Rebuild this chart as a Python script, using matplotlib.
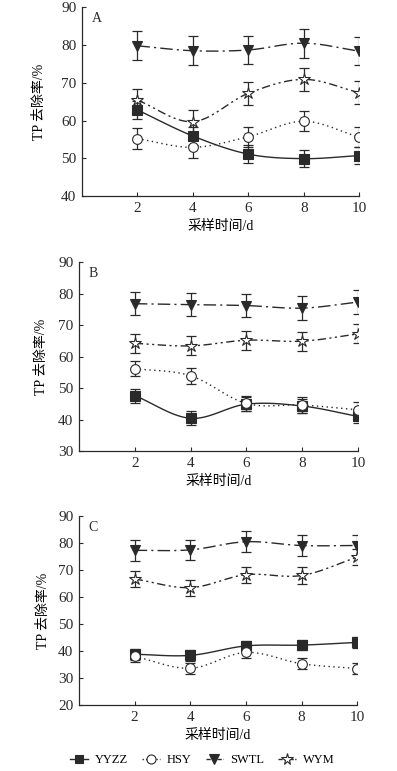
import numpy as np
import matplotlib
matplotlib.use('Agg')
import matplotlib.pyplot as plt

plt.rcParams['font.family'] = ['Liberation Serif', 'Noto Sans CJK SC']

days = [2, 4, 6, 8, 10]
series_names = ['YYZZ', 'HSY', 'SWTL', 'WYM']

# panel A
a_yyzz = [62.8, 55.9, 51.1, 49.9, 50.7]
a_hsy = [55.2, 52.9, 55.7, 59.8, 55.6]
a_swtl = [79.8, 78.5, 78.7, 80.5, 78.4]
a_wym = [65.4, 59.7, 67.2, 70.9, 67.4]
a_err = [2.3, 2.7, 3.8, 3.0]

# panel B
b_yyzz = [47.6, 40.4, 44.9, 44.3, 41.0]
b_hsy = [56.2, 53.9, 45.1, 44.6, 43.1]
b_swtl = [76.8, 76.5, 76.2, 75.4, 77.3]
b_wym = [64.2, 63.4, 65.2, 64.9, 67.2]
b_err = [2.2, 2.5, 3.7, 3.0]

# panel C
c_yyzz = [38.8, 38.4, 41.9, 42.2, 43.2]
c_hsy = [38.0, 33.6, 39.5, 35.3, 33.5]
c_swtl = [77.3, 77.5, 80.5, 79.1, 79.1]
c_wym = [66.7, 63.5, 68.3, 68.0, 74.8]
c_err = [2.0, 2.0, 3.8, 3.0]

ink = '#2a2a2a'
markers = ['s', 'o', 'v', '*']
mfc = [ink, 'white', ink, 'white']
msize = [6.5, 7, 7.5, 9]
dashes = [None, (1, 2.5), (9, 3, 1.5, 3), (6, 2.5, 1.5, 2.5, 1.5, 2.5)]


def smooth(x, y, n=30):
    # Catmull-Rom path through the points, only for drawing the curve
    x = np.asarray(x, float)
    y = np.asarray(y, float)
    px = np.concatenate([[2 * x[0] - x[1]], x, [2 * x[-1] - x[-2]]])
    py = np.concatenate([[2 * y[0] - y[1]], y, [2 * y[-1] - y[-2]]])
    xs, ys = [], []
    t = np.linspace(0, 1, n)
    for i in range(1, len(px) - 2):
        for p, out in ((px, xs), (py, ys)):
            p0, p1, p2, p3 = p[i - 1], p[i], p[i + 1], p[i + 2]
            out.extend(0.5 * (2 * p1 + (-p0 + p2) * t
                              + (2 * p0 - 5 * p1 + 4 * p2 - p3) * t ** 2
                              + (-p0 + 3 * p1 - 3 * p2 + p3) * t ** 3))
    return xs, ys


def draw_panel(ax, data, errs, label, ylim, ylab_x):
    for k, vals in enumerate(data):
        sx, sy = smooth(days, vals)
        line, = ax.plot(sx, sy, color=ink, lw=1.0)
        if dashes[k] is not None:
            line.set_dashes(dashes[k])
        ax.errorbar(days, vals, yerr=errs[k], fmt='none', ecolor=ink,
                    elinewidth=0.9, capsize=3.5, capthick=0.9)
        ax.plot(days, vals, linestyle='none', marker=markers[k],
                markersize=msize[k], markerfacecolor=mfc[k],
                markeredgecolor=ink, markeredgewidth=0.8)
    ax.set_xlim(0, 10)
    ax.set_ylim(*ylim)
    ax.set_xticks(days)
    ax.set_yticks(np.arange(ylim[0], ylim[1] + 1, 10))
    for s in ['top', 'right']:
        ax.spines[s].set_visible(False)
    for s in ['left', 'bottom']:
        ax.spines[s].set_color(ink)
        ax.spines[s].set_linewidth(0.9)
    ax.tick_params(direction='in', length=3, width=0.8, labelsize=11,
                   colors=ink, pad=4)
    ax.set_xlabel('采样时间/d', fontsize=10, labelpad=4)
    ax.set_ylabel('TP 去除率/%', fontsize=10)
    ax.yaxis.set_label_coords(ylab_x, 0.5)
    ax.text(0.035, 0.975, label, transform=ax.transAxes, fontsize=10,
            va='top', ha='left', color=ink)


fig = plt.figure(figsize=(3.97, 7.71), dpi=100)
ax_a = fig.add_axes([0.2066, 0.7458, 0.698, 0.2447])
ax_b = fig.add_axes([0.199, 0.415, 0.703, 0.245])
ax_c = fig.add_axes([0.199, 0.0856, 0.701, 0.245])

draw_panel(ax_a, [a_yyzz, a_hsy, a_swtl, a_wym], a_err, 'A', (40, 90), -0.13)
draw_panel(ax_b, [b_yyzz, b_hsy, b_swtl, b_wym], b_err, 'B', (30, 90), -0.11)
draw_panel(ax_c, [c_yyzz, c_hsy, c_swtl, c_wym], c_err, 'C', (20, 90), -0.105)

handles = []
for k in range(4):
    h, = ax_c.plot([], [], color=ink, lw=1.0, marker=markers[k],
                   markersize=msize[k] - 0.5, markerfacecolor=mfc[k],
                   markeredgecolor=ink, markeredgewidth=0.8)
    if dashes[k] is not None:
        h.set_dashes((1, 1.5) if k == 1 else (3, 1))
    handles.append(h)
fig.legend(handles, series_names, loc='center', bbox_to_anchor=(0.51, 0.014),
           ncol=4, frameon=False, fontsize=9, handlelength=1.4,
           handletextpad=0.6, columnspacing=1.1)

fig.savefig('out.png', dpi=100)
